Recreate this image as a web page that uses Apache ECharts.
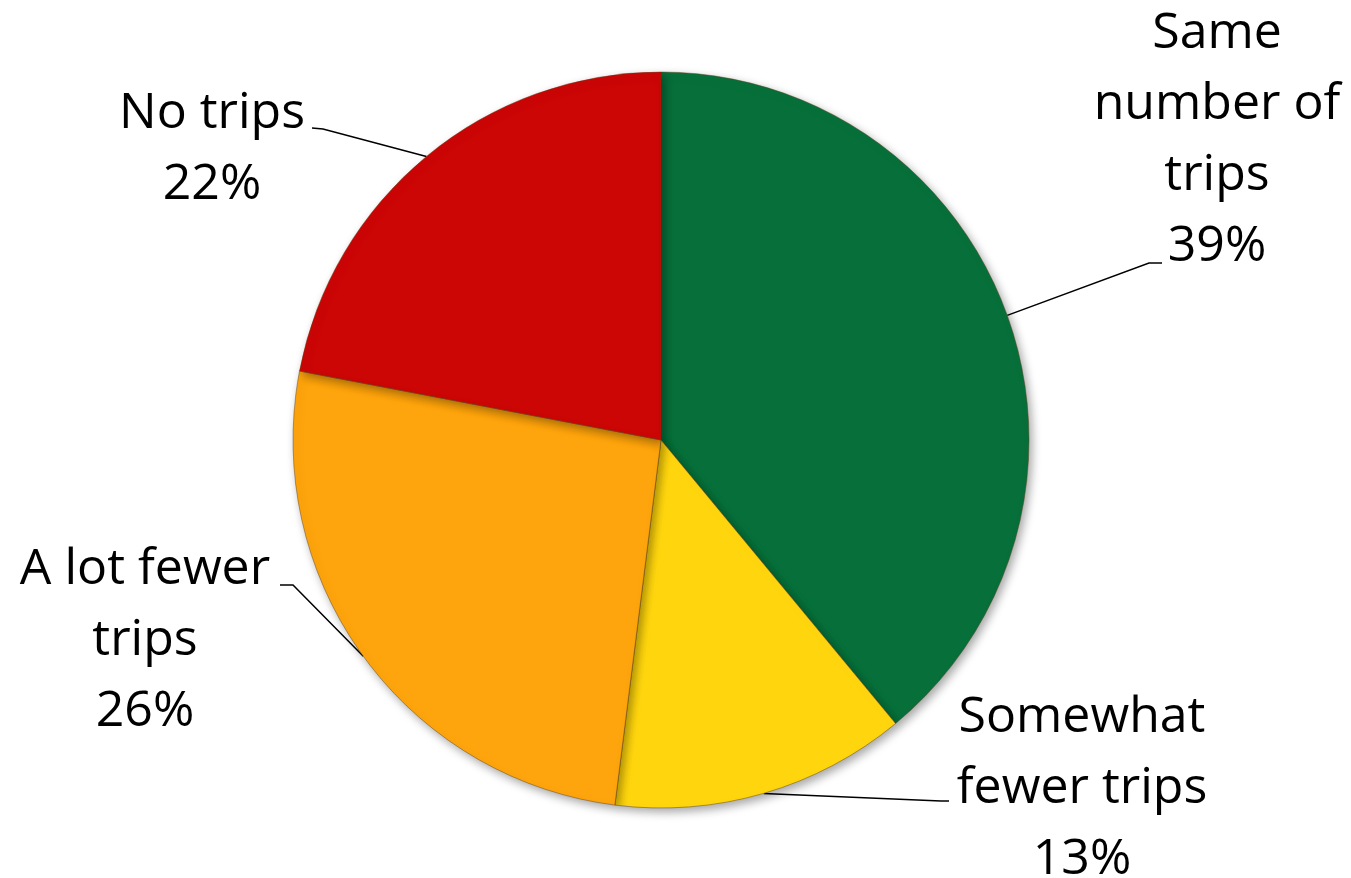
<!DOCTYPE html>
<html>
<head>
<meta charset="utf-8">
<script src="https://cdn.jsdelivr.net/npm/echarts@6/dist/echarts.min.js"></script>
<style>
html,body{margin:0;padding:0;background:#fff;}
#chart{width:1351px;height:878px;}
</style>
</head>
<body>
<div id="chart"></div>
<script>
const categories = ['Same\nnumber of\ntrips', 'Somewhat\nfewer trips', 'A lot fewer\ntrips', 'No trips'];
const values = [39, 13, 26, 22];
const colors = ['#07703A', '#FFD60E', '#FEA40C', '#CC0505'];
// label centre placement (text layout only)
const labelCenters = [[1217, 140], [1082, 789], [145, 641], [212, 149]];
// where each leader line meets its label, relative to the label centre: [bend, end]
const leaderEnds = [
  [[-68, 123], [-55, 123]],
  [[-141, 12], [-133, 12]],
  [[148, -56], [135, -56]],
  [[111, -20], [100, -21]]
];

const chart = echarts.init(document.getElementById('chart'), null, {renderer: 'canvas'});

const data = categories.map((c, i) => ({
  name: c,
  value: values[i],
  itemStyle: {color: colors[i]}
}));

chart.setOption({
  backgroundColor: '#ffffff',
  animation: false,
  series: [{
    type: 'pie',
    center: [661, 440],
    radius: 368,
    startAngle: 90,
    clockwise: true,
    data: data,
    itemStyle: {
      borderColor: 'rgba(90,60,20,0.45)',
      borderWidth: 1,
      shadowBlur: 10,
      shadowOffsetX: 3,
      shadowOffsetY: 4,
      shadowColor: 'rgba(0,0,0,0.35)'
    },
    label: {
      show: true,
      position: 'outside',
      formatter: p => p.name + '\n' + p.value + '%',
      fontFamily: '"Open Sans", sans-serif',
      fontSize: 50,
      lineHeight: 71,
      color: '#000',
      align: 'center',
      overflow: 'none'
    },
    labelLine: {
      show: true,
      length: 30,
      length2: 20,
      lineStyle: {color: '#000', width: 1.5}
    },
    labelLayout: function (params) {
      const i = params.dataIndex;
      const c = labelCenters[i];
      const e = leaderEnds[i];
      const start = params.labelLinePoints ? params.labelLinePoints[0] : null;
      const out = {x: c[0], y: c[1], align: 'center', verticalAlign: 'middle'};
      if (start) {
        out.labelLinePoints = [
          [start[0], start[1]],
          [c[0] + e[0][0], c[1] + e[0][1]],
          [c[0] + e[1][0], c[1] + e[1][1]]
        ];
      }
      return out;
    }
  }]
});
</script>
</body>
</html>
